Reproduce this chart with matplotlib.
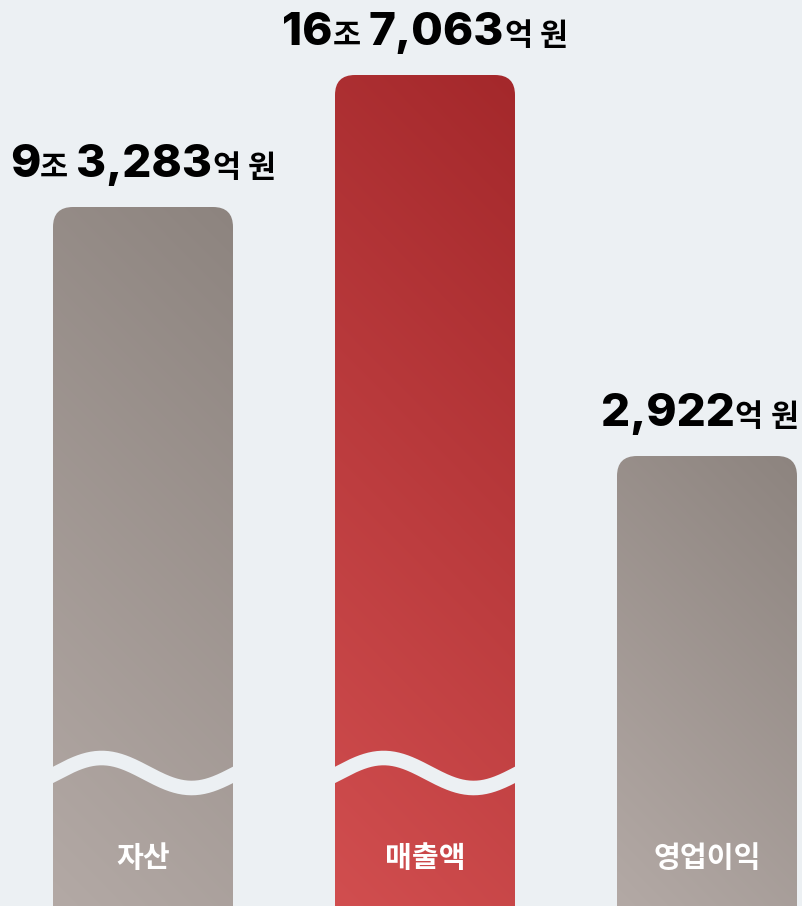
import re
import numpy as np
import matplotlib
matplotlib.use("Agg")
import matplotlib.pyplot as plt
from matplotlib.patches import FancyBboxPatch
from matplotlib.colors import to_rgb
from matplotlib.transforms import offset_copy

# data
categories = ["자산", "매출액", "영업이익"]
value_labels = ["9조 3,283억 원", "16조 7,063억 원", "2,922억 원"]
values_eok = [93283, 167063, 2922]          # 억 원
shown_height = [699, 831, 450]              # bar length on the broken scale
broken = [True, True, False]
highlight = [False, True, False]

BG = "#ECF0F3"
GRAY = ("#8D847F", "#B3A9A5")   # top-right -> bottom-left
RED = ("#A4282B", "#D14E4F")

plt.rcParams["font.family"] = ["Inter", "Noto Sans CJK KR", "DejaVu Sans"]

fig = plt.figure(figsize=(8.03, 9.06), dpi=100)
fig.patch.set_facecolor(BG)
ax = fig.add_axes([0, 0, 1, 1])
ax.set_facecolor(BG)
ax.axis("off")

step_px = 282.0      # px per category
bar_w = 180 / step_px
x_lo, x_hi = -143 / step_px, 2 + 96 / step_px
x = np.arange(len(categories))
ax.set_xlim(x_lo, x_hi)
ax.set_ylim(0, 906)


def gradient(c_top, c_bot, h, nx=60, ny=300):
    # diagonal gradient, top-right -> bottom-left, in pixel space
    xs = np.linspace(0, 180, nx)
    ys = np.linspace(h, 0, ny)
    X, Y = np.meshgrid(xs, ys)
    t = ((180 - X) + (h - Y)) / (180 + h)
    a = np.array(to_rgb(c_top))
    b = np.array(to_rgb(c_bot))
    return a + (b - a) * t[..., None]


for xi, h, hl, br in zip(x, shown_height, highlight, broken):
    x0 = xi - bar_w / 2
    patch = FancyBboxPatch((x0, -40), bar_w, h + 40,
                           boxstyle=f"round,pad=0,rounding_size={20 / step_px}",
                           mutation_aspect=step_px, linewidth=0,
                           facecolor="none")
    ax.add_patch(patch)
    cols = RED if hl else GRAY
    img = ax.imshow(gradient(cols[0], cols[1], h), extent=(x0, x0 + bar_w, 0, h),
                    aspect="auto", interpolation="bilinear", zorder=1)
    img.set_clip_path(patch)

    if br:
        u = np.linspace(-0.05, 1.05, 200)
        wy = 133 + 15 * np.sin(2 * np.pi * (u - 0.02))
        ax.plot(x0 + u * bar_w, wy, color=BG, lw=10.5, solid_capstyle="butt", zorder=2)

ax.set_xlim(x_lo, x_hi)
ax.set_ylim(0, 906)

for xi, cat in zip(x, categories):
    ax.text(xi, 48, cat, ha="center", va="center", color="white",
            fontsize=21, fontweight="bold", family=["Noto Sans CJK KR"], zorder=3)

# value labels: big digits, small hangul, baseline-aligned
renderer = fig.canvas.get_renderer()
fig_w = fig.bbox.width
for xi, h, lab in zip(x, shown_height, value_labels):
    tokens = re.findall(r"[0-9,]+|[^0-9, ]+| ", lab)
    parts = []
    for tok in tokens:
        if tok == " ":
            parts.append((None, 8))
            continue
        big = tok[0].isdigit()
        t = ax.text(xi, h + 30, tok, ha="left", va="baseline", color="black",
                    fontsize=33 if big else 22, fontweight="heavy",
                    family=["Inter", "Noto Sans CJK KR"] if big else ["Noto Sans CJK KR"],
                    zorder=3)
        w = t.get_window_extent(renderer).width
        parts.append((t, w))
    total = 0
    offs = []
    for t, w in parts:
        offs.append(total)
        total += w
    # keep the label inside the figure
    cx = ax.transData.transform((xi, 0))[0]
    shift = min(0, fig_w - 4 - (cx + total / 2))
    for (t, w), off in zip(parts, offs):
        if t is not None:
            t.set_transform(offset_copy(ax.transData, fig=fig,
                                        x=off - total / 2 + shift, y=0, units="dots"))

fig.savefig("out.png", dpi=100, facecolor=BG)
